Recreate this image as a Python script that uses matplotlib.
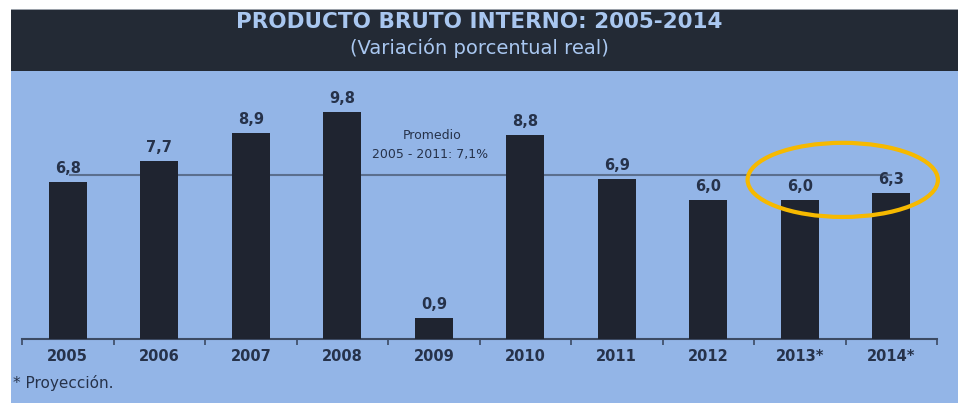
import matplotlib
matplotlib.use("Agg")
import matplotlib.pyplot as plt
from matplotlib.patches import Rectangle, Ellipse

years = ["2005", "2006", "2007", "2008", "2009", "2010", "2011", "2012", "2013*", "2014*"]
values = [6.8, 7.7, 8.9, 9.8, 0.9, 8.8, 6.9, 6.0, 6.0, 6.3]
labels = ["6,8", "7,7", "8,9", "9,8", "0,9", "8,8", "6,9", "6,0", "6,0", "6,3"]
average = 7.1
title = "PRODUCTO BRUTO INTERNO: 2005-2014"
subtitle = "(Variación porcentual real)"
avg_text = ["Promedio", "2005 - 2011: 7,1%"]
footnote = "* Proyección."

FONT = ["DejaVu Sans"]
plt.rcParams['font.family'] = FONT

W, H = 958, 403
fig = plt.figure(figsize=(W / 100, H / 100), dpi=100)
fig.patch.set_facecolor("white")

BG = "#93b5e7"
HEAD = "#232a35"
BAR = "#1f2430"
TXT = "#26324a"

# panels (figure coords)
fig.patches.append(Rectangle((11 / W, 0), 1, 1 - 71 / H, transform=fig.transFigure,
                             facecolor=BG, edgecolor="none", zorder=-10))
fig.patches.append(Rectangle((11 / W, 1 - 71 / H), 1, 62 / H, transform=fig.transFigure,
                             facecolor=HEAD, edgecolor="none", zorder=-10))
fig.patches.append(Rectangle((11 / W, 1 - 10 / H), 1, 1 / H, transform=fig.transFigure,
                             facecolor="#9aa0a8", edgecolor="none", zorder=-10))

fig.text(479 / W, 1 - 22 / H, title, ha="center", va="center", color="#a9c7f0",
         fontsize=15.5, fontweight="bold")
fig.text(479 / W, 1 - 48 / H, subtitle, ha="center", va="center", color="#a9c7f0",
         fontsize=14)

ax = fig.add_axes([22 / W, 1 - 339 / H, 915 / W, 267 / H])
ax.set_zorder(5)
ax.set_facecolor("none")
x = list(range(len(years)))
ax.bar(x, values, width=0.415, color=BAR, zorder=3)
ax.set_xlim(-0.5, len(years) - 0.5)
ax.set_ylim(0, 267 / 23.16)

for xi, v, lab in zip(x, values, labels):
    ax.text(xi, v + 0.25, lab, ha="center", va="bottom", fontsize=10.5, fontweight="bold",
            color=TXT, zorder=4)

ax.plot([0.03, 9.0], [average, average], color="#5b6f8e", lw=1.5, zorder=2)
ax.text(3.98, 8.8, avg_text[0], ha="center", va="center", fontsize=9, color=TXT)
ax.text(3.96, 7.95, avg_text[1], ha="center", va="center", fontsize=9, color=TXT)

ax.add_patch(Ellipse((8.47, 6.87), 2.08, 3.2, fill=False, edgecolor="#f6b900", lw=3, zorder=5,
                     clip_on=False))

for s in ["top", "right", "left"]:
    ax.spines[s].set_visible(False)
ax.spines["bottom"].set_color("#3c4a63")
ax.spines["bottom"].set_linewidth(1.5)
ax.set_yticks([])
ax.set_xticks([i - 0.5 for i in range(len(years) + 1)], minor=False)
ax.set_xticklabels([])
ax.tick_params(axis="x", direction="out", length=4, width=1.2, color="#3c4a63")
for xi, yr in zip(x, years):
    ax.text(xi, -0.75, yr, ha="center", va="center", fontsize=10.5, fontweight="bold", color=TXT)

fig.text(13 / W, 1 - 383 / H, footnote, ha="left", va="center", fontsize=11, color=TXT)

fig.savefig("out.png", dpi=100)
